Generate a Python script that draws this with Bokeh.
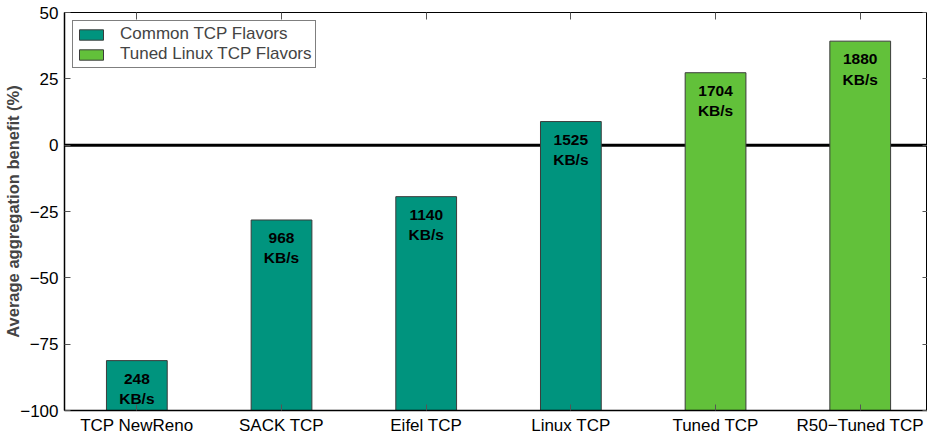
from bokeh.plotting import figure
from bokeh.models import (ColumnDataSource, FixedTicker, LinearAxis, Span,
                          Legend, LegendItem, Range1d)
from bokeh.embed import file_html
from bokeh.resources import INLINE
from bokeh.core.properties import value

categories = ["TCP NewReno", "SACK TCP", "Eifel TCP", "Linux TCP", "Tuned TCP", "R50\u2212Tuned TCP"]
benefit = [-81.2, -28.2, -19.4, 8.9, 27.3, 39.2]
throughput = [248, 968, 1140, 1525, 1704, 1880]
group = ["Common TCP Flavors"] * 4 + ["Tuned Linux TCP Flavors"] * 2
y_ticks = [-100, -75, -50, -25, 0, 25, 50]

colors = {"Common TCP Flavors": "#00947e", "Tuned Linux TCP Flavors": "#62c13a"}
FONT = "Liberation Sans"

xs = list(range(1, len(categories) + 1))
src = ColumnDataSource(dict(
    x=xs, top=benefit, bottom=[-100] * len(xs),
    color=[colors[g] for g in group],
    label=[f"{t}\nKB/s" for t in throughput],
    group=group,
))

p = figure(width=927, height=437, output_backend="svg", toolbar_location=None,
           x_range=Range1d(0.5, 6.465), y_range=Range1d(-100, 50),
           min_border_left=64, min_border_top=12, min_border_right=0, min_border_bottom=26)
p.grid.visible = False
p.outline_line_color = "black"
p.outline_line_width = 1
p.background_fill_color = "white"

zero = Span(location=0, dimension="width", line_color="black", line_width=3, level="underlay")
p.add_layout(zero)

bars = p.vbar(x="x", top="top", bottom="bottom", width=0.42, source=src,
              fill_color="color", line_color="#3c3c3c", line_width=1)

p.text(x="x", y="top", text="label", source=src, text_align="center",
       text_baseline="top", y_offset=9, text_font=value(FONT), text_font_style="bold",
       text_font_size="15.5px", text_line_height=1.2, text_color="black")

# axes
p.xaxis.ticker = FixedTicker(ticks=xs)
p.xaxis.major_label_overrides = {x: c for x, c in zip(xs, categories)}
p.yaxis.ticker = FixedTicker(ticks=y_ticks)
p.yaxis.major_label_overrides = {t: (str(t).replace("-", "\u2212")) for t in y_ticks}
p.yaxis.axis_label = "Average aggregation benefit (%)"
p.yaxis.axis_label_text_font = FONT
p.yaxis.axis_label_text_font_style = "bold"
p.yaxis.axis_label_text_font_size = "16.5px"
p.yaxis.axis_label_standoff = -5

for ax in (p.xaxis[0], p.yaxis[0]):
    ax.major_label_text_font = FONT
    ax.major_label_text_font_size = "17px"
    ax.major_label_text_color = "black"
    ax.major_tick_in = 6
    ax.major_tick_out = 0
    ax.minor_tick_line_color = None
    ax.major_tick_line_color = "#555555"
    ax.axis_line_color = "black"
    ax.axis_line_width = 1.5
p.xaxis.major_label_standoff = 5
p.yaxis.major_label_standoff = 6

top_ax = LinearAxis(ticker=FixedTicker(ticks=xs), major_label_overrides={x: "" for x in xs},
                    major_label_text_font_size="1px",
                    major_tick_in=7, major_tick_out=0, minor_tick_line_color=None,
                    major_tick_line_color="#555555", axis_line_color=None,
                    major_label_standoff=0)
p.add_layout(top_ax, "above")
right_ax = LinearAxis(ticker=FixedTicker(ticks=y_ticks), major_label_overrides={t: "" for t in y_ticks},
                      major_label_text_font_size="1px",
                      major_tick_in=5, major_tick_out=0, minor_tick_line_color=None,
                      major_tick_line_color="#555555", axis_line_color=None,
                      major_label_standoff=0)
p.add_layout(right_ax, "right")

# legend with proxy renderers
items = []
for g in ["Common TCP Flavors", "Tuned Linux TCP Flavors"]:
    r = p.vbar(x=[-10], top=[0], bottom=[-1], width=0.1, fill_color=colors[g],
               line_color="#3c3c3c")
    items.append(LegendItem(label=g, renderers=[r]))
legend = Legend(items=items, location="top_left", margin=8, padding=3, spacing=0,
                label_text_font=FONT, label_text_font_size="17px",
                glyph_width=30, glyph_height=13, label_height=16, label_standoff=14,
                border_line_color="black", border_line_width=1,
                background_fill_alpha=1)
p.add_layout(legend)

open("out.html", "w").write(file_html(p, INLINE))
